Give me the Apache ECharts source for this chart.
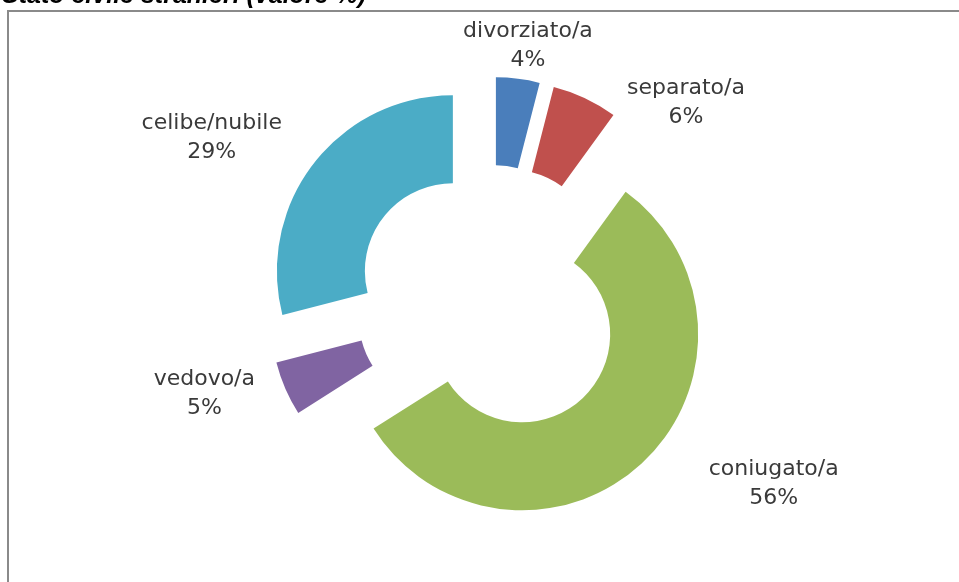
<!DOCTYPE html>
<html>
<head>
<meta charset="utf-8">
<style>
  html, body { margin: 0; padding: 0; background: #ffffff; }
  #chart { width: 959px; height: 582px; }
</style>
<script src="https://cdn.jsdelivr.net/npm/echarts@6/dist/echarts.min.js"></script>
</head>
<body>
<div id="chart"></div>
<script>
// Stato civile degli stranieri residenti, quote percentuali
var categories = ['divorziato/a', 'separato/a', 'coniugato/a', 'vedovo/a', 'celibe/nubile'];
var values = [4, 6, 56, 5, 29];
var colors = ['#4A7EBB', '#C0504D', '#9BBB59', '#8064A2', '#4BACC6'];

// hand-placed label offsets (px) from the outer edge of each slice
var labelNudge = [[5, -33], [96, 5], [126, 21], [-76, 5], [-97, -26]];

var chart = echarts.init(document.getElementById('chart'), null, { renderer: 'canvas' });

var pieData = categories.map(function (name, i) {
  return {
    name: name,
    value: values[i],
    selected: true,
    itemStyle: { color: colors[i] }
  };
});

chart.setOption({
  animation: false,
  backgroundColor: '#ffffff',
  title: {
    text: 'Stato civile stranieri (valore %)',
    left: 2,
    top: -16,
    padding: 0,
    textStyle: {
      fontFamily: 'Liberation Sans',
      fontSize: 25,
      fontStyle: 'italic',
      fontWeight: 'bold',
      color: '#000000'
    }
  },
  graphic: [
    {
      type: 'rect',
      z: -10,
      shape: { x: 8, y: 11, width: 1000, height: 1000 },
      style: { fill: '#ffffff', stroke: '#8a8a8a', lineWidth: 2 },
      silent: true
    }
  ],
  series: [
    {
      type: 'pie',
      center: [490, 300],
      radius: [88, 176],
      startAngle: 90,
      clockwise: true,
      selectedMode: 'multiple',
      selectedOffset: 47,
      avoidLabelOverlap: false,
      emphasis: { disabled: true },
      itemStyle: { borderWidth: 0 },
      label: {
        show: true,
        position: 'outside',
        formatter: function (p) { return p.name + '\n' + p.value + '%'; },
        fontFamily: 'DejaVu Sans',
        fontSize: 22,
        lineHeight: 29,
        color: '#3a3a3a'
      },
      labelLine: { show: false, length: 0, length2: 0 },
      labelLayout: function (p) {
        var n = labelNudge[p.dataIndex];
        return { align: 'center', verticalAlign: 'middle', dx: n[0], dy: n[1] };
      },
      data: pieData
    }
  ]
});
</script>
</body>
</html>
